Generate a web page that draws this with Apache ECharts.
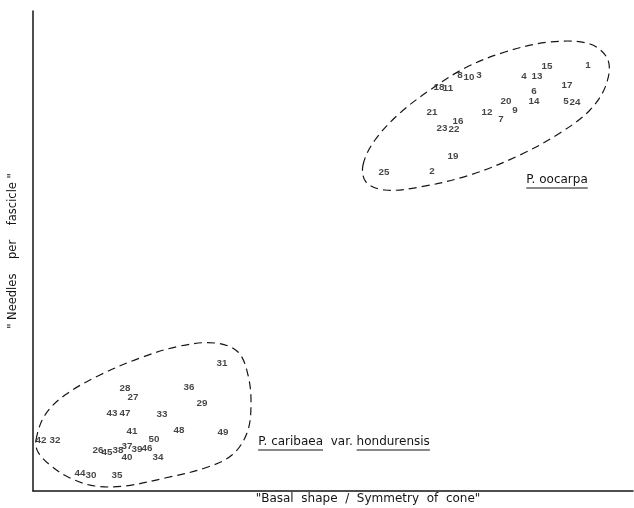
<!DOCTYPE html>
<html>
<head>
<meta charset="utf-8">
<script src="https://cdn.jsdelivr.net/npm/echarts@6/dist/echarts.min.js"></script>
<style>html,body{margin:0;padding:0;background:#fff;}#c{width:634px;height:508px;}</style>
</head>
<body>
<div id="c"></div>
<script>
// Specimen numbers and their scores (arbitrary units)
const oocarpaIds = ['1','15','4','13','8','10','3','18','11','17','6','20','14','5','24','21','12','9','16','7','23','22','19','25','2'];
const oocarpaX   = [555,514,491,504,427,436,446,406,415,534,501,473,501,533,542,399,454,482,425,468,409,421,420,351,399];
const oocarpaY   = [426,425,415,415,416,414,416,404,403,406,400,390,390,390,389,379,379,381,370,372,363,362,335,319,320];

const caribaeaIds = ['31','28','27','36','29','43','47','33','41','48','49','42','32','50','26','45','38','37','39','46','40','34','44','30','35'];
const caribaeaX   = [189,92,100,156,169,79,92,129,99,146,190,8,22,121,65,74,85,94,104,114,94,125,47,58,84];
const caribaeaY   = [128,103,94,104,88,78,78,77,60,61,59,51,51,52,41,39,41,45,42,43,34,34,18,16,16];

// Dashed group outlines (boundary points)
const oocarpaHullX = [330,342,367,397,432,472,517,557,575,573,557,527,487,437,387,352,333];
const oocarpaHullY = [326,351,378,401,423,439,449,447,431,406,381,358,336,316,304,301,309];
const caribaeaHullX = [3,12,32,67,107,147,182,205,215,218,214,199,172,132,92,62,37,17,5];
const caribaeaHullY = [51,76,96,116,133,145,148,139,116,86,58,36,23,13,5,5,13,26,39];

// Group annotations
const annSegments = [
  [['P. oocarpa', true]],
  [['P. caribaea', true], ['  var. ', false], ['hondurensis', true]]
];
const annX = [524, 311];
const annY = [311, 49];

const xTitle = '"Basal  shape  /  Symmetry  of  cone"';
const yTitle = '" Needles    per    fascicle "';

const ink = '#151515';
const annFont = '12px "DejaVu Sans"';
const measureCtx = document.createElement('canvas').getContext('2d');
measureCtx.font = annFont;

function hullSeries(hx, hy) {
  return {
    type: 'custom',
    silent: true,
    data: [0],
    renderItem: function (params, api) {
      const pts = hx.map((x, i) => api.coord([x, hy[i]]));
      return {
        type: 'polygon',
        shape: { points: pts, smooth: 0.35 },
        style: { fill: 'none', stroke: ink, lineWidth: 1.2, lineDash: [8, 5] }
      };
    }
  };
}

function labelSeries(ids, xs, ys) {
  return {
    type: 'scatter',
    symbolSize: 0,
    silent: true,
    data: ids.map((id, i) => ({ value: [xs[i], ys[i]], name: id })),
    label: {
      show: true,
      position: 'inside',
      formatter: p => p.name,
      fontFamily: 'Liberation Sans',
      fontWeight: 'bold',
      fontSize: 9.8,
      color: ink
    }
  };
}

const annSeries = {
  type: 'custom',
  silent: true,
  data: annX.map((x, i) => [x, annY[i], i]),
  renderItem: function (params, api) {
    const idx = api.value(2);
    const c = api.coord([api.value(0), api.value(1)]);
    const segs = annSegments[idx];
    const widths = segs.map(s => measureCtx.measureText(s[0]).width);
    const total = widths.reduce((a, b) => a + b, 0);
    let x = c[0] - total / 2;
    const children = [];
    segs.forEach((s, k) => {
      children.push({
        type: 'text',
        style: { text: s[0], x: x, y: c[1], font: annFont, fill: ink, align: 'left', verticalAlign: 'middle' }
      });
      if (s[1]) {
        children.push({
          type: 'line',
          shape: { x1: x, y1: c[1] + 8, x2: x + widths[k], y2: c[1] + 8 },
          style: { stroke: ink, lineWidth: 1.2 }
        });
      }
      x += widths[k];
    });
    return { type: 'group', children: children };
  }
};

const chart = echarts.init(document.getElementById('c'), null, { renderer: 'canvas' });
chart.setOption({
  backgroundColor: '#fff',
  animation: false,
  grid: { left: 33, top: 11, width: 600, height: 480, outerBoundsMode: 'none', containLabel: false },
  xAxis: {
    type: 'value', min: 0, max: 600,
    name: xTitle, nameLocation: 'middle', nameGap: 8,
    nameTextStyle: { fontFamily: 'DejaVu Sans', fontSize: 12, color: ink, padding: [0, 0, 0, 70], verticalAlign: 'middle' },
    axisLine: { show: true, onZero: false, lineStyle: { color: ink, width: 1.5 } },
    axisTick: { show: false }, axisLabel: { show: false }, splitLine: { show: false }
  },
  yAxis: {
    type: 'value', min: 0, max: 480,
    name: yTitle, nameLocation: 'middle', nameGap: 14,
    nameTextStyle: { fontFamily: 'DejaVu Sans', fontSize: 11.5, color: ink },
    axisLine: { show: true, onZero: false, lineStyle: { color: ink, width: 1.5 } },
    axisTick: { show: false }, axisLabel: { show: false }, splitLine: { show: false }
  },
  series: [
    hullSeries(oocarpaHullX, oocarpaHullY),
    hullSeries(caribaeaHullX, caribaeaHullY),
    labelSeries(oocarpaIds, oocarpaX, oocarpaY),
    labelSeries(caribaeaIds, caribaeaX, caribaeaY),
    annSeries
  ]
});
</script>
</body>
</html>
